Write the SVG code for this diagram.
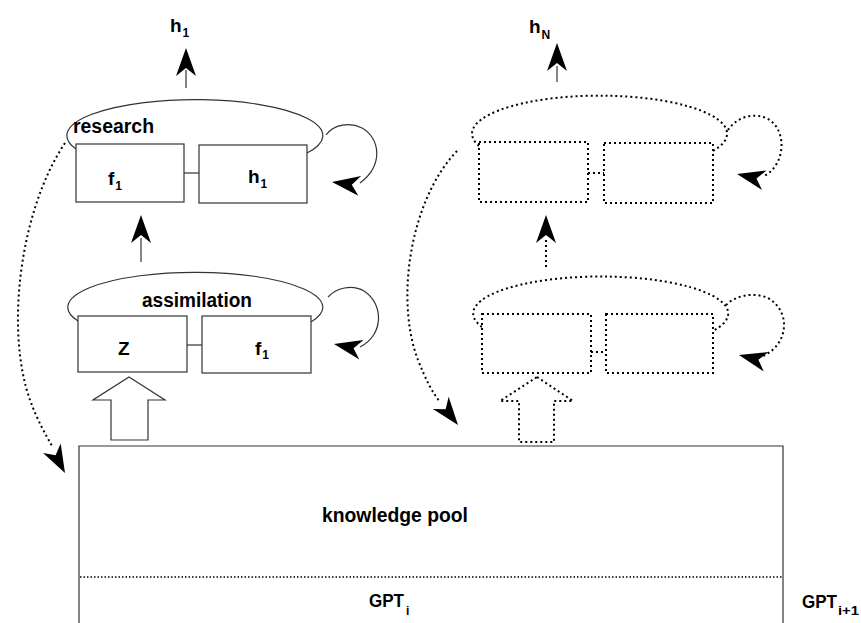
<svg xmlns="http://www.w3.org/2000/svg" width="861" height="623" viewBox="0 0 861 623">
  <defs>
    <style>
      .solid { fill: none; stroke: #333; stroke-width: 1.2; }
      .box { fill: #fff; stroke: #333; stroke-width: 1.2; }
      .dot { fill: none; stroke: #000; stroke-width: 2; stroke-dasharray: 2 3; }
      .dotbox { fill: #fff; stroke: #000; stroke-width: 2; stroke-dasharray: 2 3; }
      .fine { fill: none; stroke: #000; stroke-width: 1.5; stroke-dasharray: 1.5 2; }
      .lbl { font-family: "Liberation Sans", Arial, sans-serif; font-weight: bold; fill: #000; }
      .big { font-size: 20px; }
      .sym { font-size: 19px; }
      .gpt { font-size: 18px; }
      .sub { font-size: 12px; }
    </style>
    <!-- notched arrowhead, tip at origin, pointing along +x -->
    <path id="head" d="M0,0 L-28,-10 L-20,0 L-28,10 Z" fill="#000"/>
  </defs>

  <!-- knowledge pool with the generation divider -->
  <g id="pool">
    <path class="solid" d="M79,630 V446 H783 V630"/>
    <line class="fine" x1="80" y1="577" x2="783" y2="577"/>
    <text class="lbl big" x="322" y="522" textLength="146" lengthAdjust="spacingAndGlyphs">knowledge pool</text>
    <text class="lbl gpt" x="369" y="607"><tspan textLength="35" lengthAdjust="spacingAndGlyphs">GPT</tspan><tspan class="sub" dx="2" dy="8">i</tspan></text>
    <text class="lbl gpt" x="802" y="608"><tspan textLength="35" lengthAdjust="spacingAndGlyphs">GPT</tspan><tspan class="sub" dx="1" dy="7" textLength="21" lengthAdjust="spacingAndGlyphs">i+1</tspan></text>
  </g>

  <!-- research stage (first technology) -->
  <g id="research">
    <path class="solid" d="M76,149 A128,36 0 1,1 307,153"/>
    <rect class="box" x="76" y="144" width="108" height="58"/>
    <rect class="box" x="199" y="145" width="108" height="58"/>
    <line class="solid" x1="184" y1="173" x2="199" y2="173"/>
    <text class="lbl big" x="73" y="133" textLength="81" lengthAdjust="spacingAndGlyphs">research</text>
    <text class="lbl sym" x="108" y="185">f<tspan class="sub" dx="1" dy="5">1</tspan></text>
    <text class="lbl sym" x="248" y="183">h<tspan class="sub" dx="1" dy="5">1</tspan></text>
  </g>

  <!-- assimilation stage (first technology) -->
  <g id="assimilation">
    <path class="solid" d="M78,321 A127.5,35 0 1,1 311,322"/>
    <rect class="box" x="78" y="316" width="109" height="56"/>
    <rect class="box" x="202" y="316" width="109" height="57"/>
    <line class="solid" x1="187" y1="345" x2="202" y2="345"/>
    <text class="lbl big" x="142" y="307" textLength="110" lengthAdjust="spacingAndGlyphs">assimilation</text>
    <text class="lbl sym" x="118" y="355">Z</text>
    <text class="lbl sym" x="255" y="355">f<tspan class="sub" dx="1" dy="4">1</tspan></text>
  </g>

  <!-- research stage (N-th technology, dotted) -->
  <g id="research-n">
    <path class="dot" d="M479,146 A127.5,38 0 1,1 713,151"/>
    <rect class="dotbox" x="479" y="142" width="109" height="60"/>
    <rect class="dotbox" x="604" y="143" width="109" height="60"/>
    <line class="dot" x1="588" y1="173" x2="604" y2="173"/>
  </g>

  <!-- assimilation stage (N-th technology, dotted) -->
  <g id="assimilation-n">
    <path class="dot" d="M482,327 A127.5,37 0 1,1 713,331"/>
    <rect class="dotbox" x="482" y="314" width="109" height="59"/>
    <rect class="dotbox" x="606" y="314" width="107" height="59"/>
    <line class="dot" x1="591" y1="352" x2="606" y2="352"/>
  </g>

  <!-- output labels -->
  <g id="out-h1">
    <text class="lbl sym" x="170" y="32">h<tspan class="sub" dx="1" dy="5">1</tspan></text>
  </g>
  <g id="out-hN">
    <text class="lbl sym" x="529" y="33">h<tspan class="sub" dx="1" dy="6">N</tspan></text>
  </g>

  <!-- connectors -->
  <g id="connectors">
    <!-- outputs -->
    <line class="solid" x1="186" y1="70" x2="186" y2="88"/>
    <use href="#head" transform="translate(186,48) rotate(-90)"/>
    <line class="solid" x1="557" y1="66" x2="557" y2="82"/>
    <use href="#head" transform="translate(557,43) rotate(-90)"/>

    <!-- assimilation to research -->
    <line class="solid" x1="141" y1="238" x2="141" y2="262"/>
    <use href="#head" transform="translate(141,215) rotate(-90)"/>
    <line class="dot" x1="546" y1="240" x2="546" y2="267"/>
    <use href="#head" transform="translate(546,215) rotate(-90)"/>

    <!-- self loops -->
    <path class="solid" d="M326,135 C334,124 350,122 362,128 C380,138 384,165 360,183"/>
    <use href="#head" transform="translate(332,182) rotate(188)"/>
    <path class="solid" d="M328,297 C336,288 352,284 364,291 C384,304 384,335 360,347"/>
    <use href="#head" transform="translate(334,344) rotate(192)"/>
    <path class="dot" d="M728,130 C736,118 752,112 766,118 C788,128 786,165 764,176"/>
    <use href="#head" transform="translate(737,174) rotate(193)"/>
    <path class="dot" d="M726,305 C736,295 754,292 768,298 C792,312 788,345 763,356"/>
    <use href="#head" transform="translate(739,355) rotate(194)"/>

    <!-- knowledge feedback to the pool -->
    <path class="dot" d="M65,143 C20,210 5,330 30,400 C38,422 46,435 52,446"/>
    <use href="#head" transform="translate(65,473) rotate(62)"/>
    <path class="dot" d="M457,151 C410,200 395,300 418,360 C426,380 432,392 440,402"/>
    <use href="#head" transform="translate(458,425) rotate(52)"/>

    <!-- pool to assimilation (hollow block arrows) -->
    <polygon class="box" points="129,377 165,400 148,400 148,440 111,440 111,400 93,400"/>
    <polygon class="dotbox" points="537,377 573,401 554,401 554,442 519,442 519,401 500,401"/>
  </g>
</svg>
